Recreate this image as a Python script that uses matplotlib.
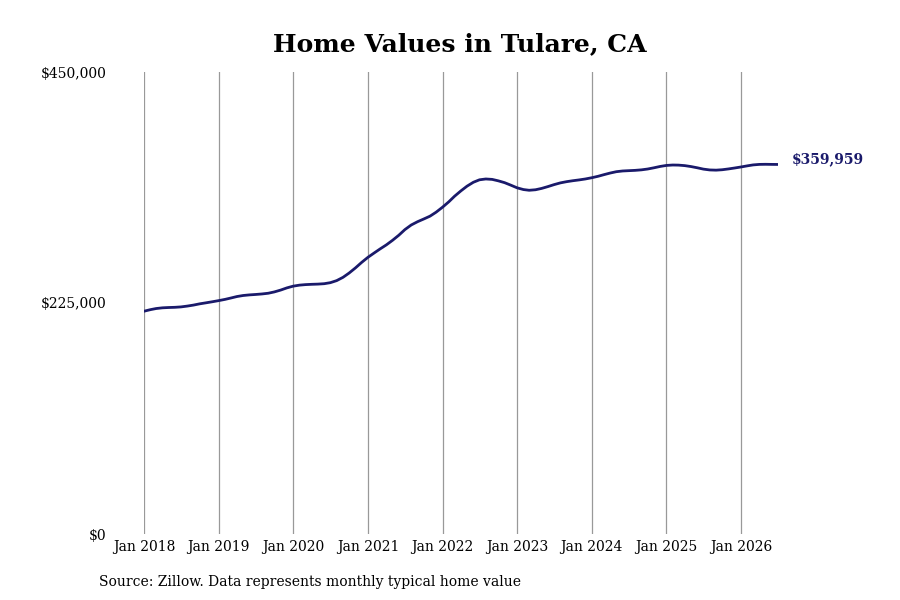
import matplotlib
matplotlib.use("Agg")
import matplotlib.pyplot as plt
import pandas as pd

title = "Home Values in Tulare, CA"
source = "Source: Zillow. Data represents monthly typical home value"
start_month = "2018-01-01"
values = [
    217.0, 218.5, 219.6, 220.3, 220.6, 220.8, 221.2, 222.0, 223.0, 224.2, 225.2, 226.2,
    227.3, 228.5, 229.8, 231.3, 232.3, 232.9, 233.3, 233.8, 234.5, 235.8, 237.6, 239.7,
    241.4, 242.4, 242.9, 243.2, 243.4, 243.8, 244.8, 246.8, 250.0, 254.2, 259.2, 264.5,
    269.5, 273.8, 277.6, 281.6, 286.0, 291.0, 296.5, 301.0, 304.2, 306.8, 309.6, 313.5,
    318.3, 323.6, 329.0, 334.2, 338.8, 342.6, 345.0, 345.8, 345.4, 344.0, 342.2, 339.8,
    337.2, 335.5, 334.8, 335.3, 336.6, 338.4, 340.3, 342.0, 343.2, 344.1, 344.9, 345.8,
    347.0, 348.4, 350.0, 351.6, 352.9, 353.6, 353.9, 354.2, 354.7, 355.5, 356.7, 358.0,
    359.0, 359.4, 359.3, 358.8, 357.9, 356.7, 355.4, 354.6, 354.4, 354.8, 355.6, 356.5,
    357.5, 358.6, 359.5, 360.0, 360.1, 360.0, 359.959,
]
values = [v * 1000 for v in values]
tick_years = [2018, 2019, 2020, 2021, 2022, 2023, 2024, 2025, 2026]
tick_labels = [f"Jan {y}" for y in tick_years]
y_ticks = [0, 225000, 450000]
y_labels = ["$0", "$225,000", "$450,000"]
end_label = "$359,959"

line_color = "#1a1a6b"

dates = pd.date_range(start_month, periods=len(values), freq="MS")
tick_dates = [pd.Timestamp(f"{y}-01-01") for y in tick_years]

plt.rcParams["font.family"] = ["DejaVu Serif"]

fig = plt.figure(figsize=(9, 6), dpi=100)
ax = fig.add_axes([144 / 900, 1 - 534 / 600, (778 - 144) / 900, (534 - 72) / 600])

ax.plot(dates, values, color=line_color, linewidth=2.0, solid_capstyle="round", zorder=3)

ax.set_xlim(dates[0], dates[-1])
ax.set_ylim(0, 450000)
ax.set_xticks(tick_dates)
ax.set_xticklabels(tick_labels, fontsize=10)
ax.set_yticks(y_ticks)
ax.set_yticklabels(y_labels, fontsize=10)
ax.tick_params(axis="x", length=0, pad=4)
ax.tick_params(axis="y", length=0, pad=27)
ax.grid(axis="x", color="#999999", linewidth=0.9)
ax.grid(axis="y", visible=False)
for s in ax.spines.values():
    s.set_visible(False)

ax.annotate(end_label, xy=(dates[-1], values[-1]), xytext=(10, 3.5),
            textcoords="offset points", ha="left", va="center",
            fontsize=10, fontweight="bold", color=line_color, annotation_clip=False)

fig.text(460 / 900, 1 - 44 / 600, title, ha="center", va="center",
         fontsize=18, fontweight="bold", color="black")
fig.text(99 / 900, 1 - 582 / 600, source, ha="left", va="center",
         fontsize=10, color="black")

fig.savefig("out.png", dpi=100)
